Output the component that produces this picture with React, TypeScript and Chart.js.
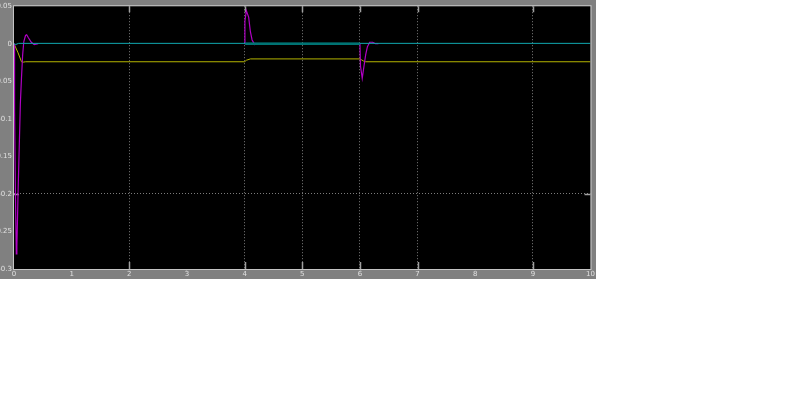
// @ts-nocheck
import { useEffect, useRef } from "react";
import { Chart, registerables } from "chart.js";

Chart.register(...registerables);

// time (s) and value of each trace (null = trace hidden under another)
const magentaT = [0, 0.01, 0.025, 0.04, 0.05, 0.07, 0.09, 0.11, 0.13, 0.15, 0.17, 0.2, 0.22, 0.25, 0.3, 0.35, 0.42,
  2,
  3.997, 4.005, 4.03, 4.07, 4.1, 4.13, 4.175, 4.24,
  5,
  6.0, 6.01, 6.04, 6.07, 6.1, 6.13, 6.17, 6.22, 6.27, 6.32];
const magentaV = [0, -0.09, -0.2, -0.28, -0.27, -0.2, -0.14, -0.08, -0.045, -0.015, 0.003, 0.011, 0.012, 0.008, 0.002, -0.001, 0,
  null,
  0, 0.03, 0.044, 0.0355, 0.016, 0.005, -0.001, 0,
  null,
  0, -0.03, -0.046, -0.03, -0.0145, -0.004, 0.002, 0.002, 0, 0];

const cyanT = [0, 0.03, 0.08, 10];
const cyanV = [0, -0.001, 0.0005, 0.0005];

const overlapT = [4.01, 6.0];
const overlapV = [0, 0];

const yellowT = [0, 0.07, 0.13, 0.16, 0.2, 4.0, 4.03, 4.1, 6.0, 6.03, 6.06, 6.1, 10];
const yellowV = [0, -0.012, -0.024, -0.0245, -0.024, -0.024, -0.022, -0.0202, -0.0202, -0.0215, -0.023, -0.024, -0.024];

const xTicks = [0, 1, 2, 3, 4, 5, 6, 7, 8, 9, 10];
const yTicks = [-0.3, -0.25, -0.2, -0.15, -0.1, -0.05, 0, 0.05];
// only these grid lines survive in the screenshot
const xGridShown = [2, 4, 5, 6, 7, 9];
const yGridShown = [-0.2];

const zip = (t, v) => t.map((x, i) => ({ x, y: v[i] }));
const near = (list, v) => list.some((g) => Math.abs(g - v) < 1e-6);

const scopeFrame = {
  id: "scopeFrame",
  beforeDraw(chart) {
    const { ctx, chartArea: a, width, height } = chart;
    ctx.save();
    ctx.fillStyle = "#808080";
    ctx.fillRect(0, 0, width, height);
    ctx.fillStyle = "#000000";
    ctx.fillRect(a.left, a.top, a.right - a.left, a.bottom - a.top);
    ctx.restore();
  },
  beforeDatasetsDraw(chart) {
    const { ctx, chartArea: a, scales } = chart;
    ctx.save();
    ctx.strokeStyle = "#a0a0a0";
    ctx.lineWidth = 1.5;
    ctx.beginPath();
    xGridShown.forEach((v) => {
      const px = Math.round(scales.x.getPixelForValue(v)) + 0.5;
      ctx.moveTo(px, a.top);
      ctx.lineTo(px, a.top + 6);
      ctx.moveTo(px, a.bottom);
      ctx.lineTo(px, a.bottom - 7);
    });
    yGridShown.forEach((v) => {
      const py = Math.round(scales.y.getPixelForValue(v)) + 0.5;
      ctx.moveTo(a.left, py);
      ctx.lineTo(a.left + 5, py);
      ctx.moveTo(a.right, py);
      ctx.lineTo(a.right - 6, py);
    });
    ctx.stroke();
    ctx.restore();
  },
  afterDatasetsDraw(chart) {
    const { ctx, chartArea: a } = chart;
    ctx.save();
    ctx.strokeStyle = "#c4c4c4";
    ctx.lineWidth = 1;
    ctx.strokeRect(a.left - 0.5, a.top - 0.5, a.right - a.left + 1, a.bottom - a.top + 1);
    ctx.restore();
  },
};

export default function App() {
  const canvasRef = useRef(null);
  const chartRef = useRef(null);

  useEffect(() => {
    const ctx = canvasRef.current?.getContext("2d");
    chartRef.current = new Chart(ctx, {
      type: "line",
      data: {
        datasets: [
          { label: "o", data: zip(overlapT, overlapV), borderColor: "#007474", borderWidth: 2.5, order: 0 },
          { label: "c", data: zip(cyanT, cyanV), borderColor: "#10a8b0", borderWidth: 1, order: 1 },
          { label: "m", data: zip(magentaT, magentaV), borderColor: "#b000c4", borderWidth: 1.2, order: 2, spanGaps: false },
          { label: "y", data: zip(yellowT, yellowV), borderColor: "#b4b400", borderWidth: 1, order: 3 },
        ],
      },
      options: {
        animation: false,
        responsive: false,
        events: [],
        elements: { point: { radius: 0 }, line: { tension: 0 } },
        layout: { autoPadding: false, padding: { top: 4, right: 4, bottom: 0, left: 0 } },
        plugins: { legend: { display: false }, tooltip: { enabled: false } },
        scales: {
          x: {
            type: "linear",
            min: 0,
            max: 10,
            afterBuildTicks: (s) => { s.ticks = xTicks.map((value) => ({ value })); },
            afterFit: (s) => { s.height = 10; },
            ticks: {
              color: "#e0e0e0",
              font: { family: "DejaVu Sans", size: 7 },
              padding: 1,
              maxRotation: 0,
              autoSkip: false,
            },
            grid: {
              color: (c) => (near(xGridShown, c.tick?.value) ? "#7c7c7c" : "transparent"),
              drawTicks: false,
              lineWidth: 1,
            },
            border: { display: false, dash: [1, 2] },
          },
          y: {
            type: "linear",
            min: -0.3,
            max: 0.05,
            afterBuildTicks: (s) => { s.ticks = yTicks.map((value) => ({ value })); },
            afterFit: (s) => { s.width = 14; },
            ticks: {
              color: "#e0e0e0",
              font: { family: "DejaVu Sans", size: 7 },
              padding: 2,
              callback: (v) => `${parseFloat(Number(v).toFixed(2))}`,
            },
            grid: {
              color: (c) => (near(yGridShown, c.tick?.value) ? "#7c7c7c" : "transparent"),
              drawTicks: false,
              lineWidth: 1,
            },
            border: { display: false, dash: [1, 2] },
          },
        },
      },
      plugins: [scopeFrame],
    });

    return () => {
      chartRef.current.destroy();
    };
  }, []);

  return (
    <div style={{ position: "absolute", left: 0, top: 0, width: 596, height: 279 }}>
      <canvas ref={canvasRef} width={596} height={279} style={{ width: 596, height: 279 }} />
    </div>
  );
}
